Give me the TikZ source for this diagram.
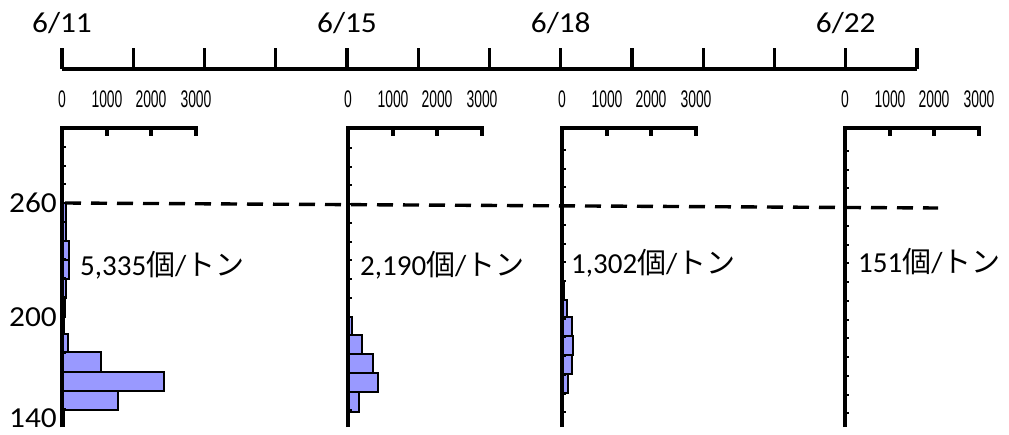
\documentclass[tikz,border=0pt]{standalone}
\usepackage{fontspec}
\setmainfont{Carlito}
\newfontfamily\cjk{Noto Sans CJK JP}
\newfontfamily\narrowfont{Liberation Sans}
\definecolor{barblue}{HTML}{9999FF}
\begin{document}
\begin{tikzpicture}[x=1pt,y=-1pt,
  axisline/.style={line width=3.2pt},
  thinaxis/.style={line width=3.4pt},
  minortick/.style={line width=2pt},
  histbar/.style={draw=black,line width=2.8pt,fill=barblue},
  datelbl/.style={font=\fontsize{29}{32}\selectfont, xscale=1.08, inner sep=0pt},
  scalelbl/.style={font=\narrowfont\fontsize{24}{26}\selectfont, xscale=0.58, inner sep=0pt},
  countlbl/.style={font=\fontsize{29}{32}\selectfont, inner sep=0pt, anchor=west},
  refline/.style={line width=3.4pt, dash pattern=on 16pt off 10pt}
]
\useasboundingbox (0,0) rectangle (1009,434);

% ---- top time axis ----
\draw[axisline] (62,69) -- (917,69);
\foreach \k in {0,...,12}{
  \draw[axisline] ({62+71.25*\k},48) -- ({62+71.25*\k},69);
}
\node[datelbl,anchor=base] (d611) at (62,32) {6/11};
\node[datelbl,anchor=base] (d615) at ({62+71.25*4},32) {6/15};
\node[datelbl,anchor=base] (d618) at ({62+71.25*7},32) {6/18};
\node[datelbl,anchor=base] (d622) at ({62+71.25*11},32) {6/22};

% ---- y labels ----
\node[datelbl,anchor=east] (y260) at (57,203) {260};
\node[datelbl,anchor=east] (y200) at (57,317) {200};
\node[datelbl,anchor=east] (y140) at (57,418) {140};

% ---- panel 1 bars ----
\foreach \ya/\yb/\w in {203/222/4,222/241/4,241/260/7,260/279/7,279/298/4,298/317/3,317/334/2,334/352/6,352/372/39,372/391/102,391/410/56,410/426/2}{
  \draw[histbar] (62,\ya) rectangle ({62+\w},\yb);
}
% ---- panel 2 bars ----
\foreach \ya/\yb/\w in {317/335/4,335/354/14,354/373/25,373/392/30,392/412/11}{
  \draw[histbar] (348,\ya) rectangle ({348+\w},\yb);
}
% ---- panel 3 bars ----
\foreach \ya/\yb/\w in {282/300/2,300/317/5,317/336/10,336/355/11,355/374/10,374/393/6}{
  \draw[histbar] (562,\ya) rectangle ({562+\w},\yb);
}

% ---- panel axes ----
\foreach \x/\off in {62/0,348/1,562/3,845/4}{
  \draw[thinaxis] (\x,427) -- (\x,128) -- ({\x+134},128) -- ({\x+134},136);
  \draw[thinaxis] ({\x+45},128) -- ({\x+45},136);
  \draw[thinaxis] ({\x+89},128) -- ({\x+89},136);
  \draw[thinaxis] (\x,128) -- (\x,136);
  \foreach \k in {-3,...,11}{
    \draw[minortick] (\x,{203+18.75*\k+\off}) -- ++(3.5,0);
  }
  \node[scalelbl] at (\x,99) {0};
  \node[scalelbl] at ({\x+45},99) {1000};
  \node[scalelbl] at ({\x+89},99) {2000};
  \node[scalelbl] at ({\x+134},99) {3000};
}

% ---- reference line 260 ----
\draw[refline] (65,203) -- (938,208);

% ---- count labels ----
\node[countlbl] (c1) at (80,265) {5,335{\cjk 個}/{\cjk トン}};
\node[countlbl] (c2) at (360,265) {2,190{\cjk 個}/{\cjk トン}};
\node[countlbl] (c3) at (571,263) {1,302{\cjk 個}/{\cjk トン}};
\node[countlbl] (c4) at (858,262) {151{\cjk 個}/{\cjk トン}};
\end{tikzpicture}
\end{document}
